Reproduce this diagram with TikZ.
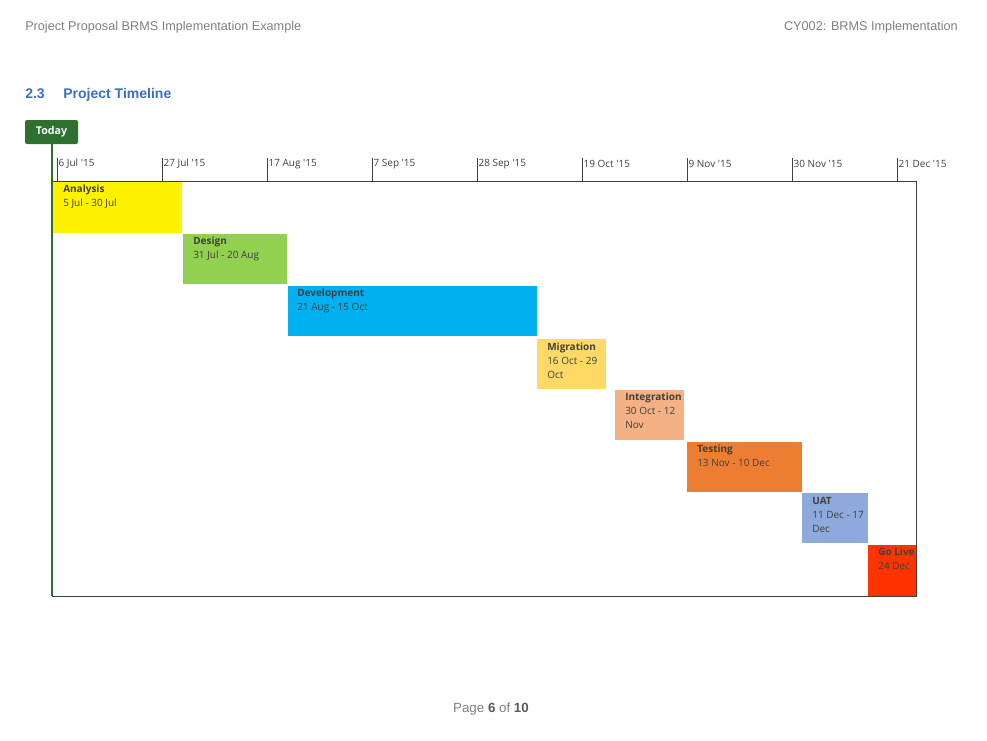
\documentclass[tikz,border=0pt]{standalone}
\usepackage{fontspec}
\setmainfont{Liberation Sans}
\newfontfamily\barfont{Open Sans}
\usepackage{xcolor}
\definecolor{todaygreen}{HTML}{2E7030}
\definecolor{headgray}{HTML}{7F7F7F}
\definecolor{titleblue}{HTML}{3A6FC4}
\definecolor{bartext}{HTML}{404040}
\tikzset{
  bar/.style={draw=none},
  headtxt/.style={inner sep=0pt, text=headgray, font=\fontsize{9.5}{12}\selectfont},
  bartxt/.style={anchor=north west, inner sep=0pt, align=left, text=bartext,
    font=\barfont\fontsize{7.5}{10.5}\selectfont},
  tick/.style={anchor=west, inner sep=1pt, text=bartext, font=\barfont\fontsize{7.5}{9}\selectfont}
}
\begin{document}
\begin{tikzpicture}[x=0.75pt, y=-0.75pt]
    \useasboundingbox (0,0) rectangle (987,740);

    % page header and footer
    \node [headtxt, anchor=west] (hl) at (25,27) {Project Proposal BRMS Implementation Example};
    \node [headtxt, anchor=east] (hr) at (958,27) {CY002: BRMS Implementation};
    \node [anchor=west, inner sep=0pt, text=titleblue, font=\bfseries\fontsize{10.5}{12}\selectfont] (sec) at (25,95) {2.3\hspace{14pt}Project Timeline};
    \node [text=headgray, font=\fontsize{10}{12}\selectfont] (page) at (491,709) {Page \textbf{\color{black!65}6} of \textbf{\color{black!65}10}};

    % bars
    \fill[color={rgb,255:red,255;green,242;blue,0}] (53,181) rectangle (182,233);
    \fill[color={rgb,255:red,146;green,208;blue,80}] (183,234) rectangle (287,284);
    \fill[color={rgb,255:red,0;green,176;blue,240}] (288,286) rectangle (537,336);
    \fill[color={rgb,255:red,255;green,217;blue,102}] (537,339) rectangle (606,389);
    \fill[color={rgb,255:red,244;green,177;blue,131}] (615,390) rectangle (684,440);
    \fill[color={rgb,255:red,237;green,125;blue,49}] (687,442) rectangle (802,492);
    \fill[color={rgb,255:red,142;green,169;blue,219}] (802,493) rectangle (868,543);
    \fill[color={rgb,255:red,255;green,51;blue,0}] (868,545) rectangle (916,596);

    % bar labels
    \node [bartxt] (analysis) at (63,185) {\textbf{Analysis}\\5 Jul - 30 Jul};
    \node [bartxt] (design) at (193,237) {\textbf{Design}\\31 Jul - 20 Aug};
    \node [bartxt] (dev) at (297,289) {\textbf{Development}\\21 Aug - 15 Oct};
    \node [bartxt] (migr) at (547,343) {\textbf{Migration}\\16 Oct - 29\\Oct};
    \node [bartxt] (integ) at (625,393) {\textbf{Integration}\\30 Oct - 12\\Nov};
    \node [bartxt] (test) at (697,445) {\textbf{Testing}\\13 Nov - 10 Dec};
    \node [bartxt] (uat) at (812,497) {\textbf{UAT}\\11 Dec - 17\\Dec};
    \begin{scope}
      \clip (868,545) rectangle (916,596);
      \node [bartxt] (golive) at (878,548) {\textbf{Go Live}\\24 Dec};
    \end{scope}

    % frame and scale
    \draw[black!75, line width=0.6pt] (52,181) -- (916,181) -- (916,596) -- (52,596);
    \foreach \x/\d in {57/6 Jul '15, 162/27 Jul '15, 267/17 Aug '15, 372/7 Sep '15,
        477/28 Sep '15, 582/19 Oct '15, 687/9 Nov '15, 792/30 Nov '15, 897/21 Dec '15} {
      \draw[black!75, line width=0.6pt] (\x,158) -- (\x,181);
      \node [tick] at (\x,164) {\d};
    }

    % today marker
    \draw[todaygreen, line width=0.8pt] (52,144) -- (52,596);
    \node [fill=todaygreen, rounded corners=1.5pt, minimum width=53*0.75pt, minimum height=24*0.75pt,
      inner sep=0pt, text=white, font=\barfont\bfseries\fontsize{8}{9}\selectfont] (today) at (51.5,132) {Today};
\end{tikzpicture}
\end{document}
